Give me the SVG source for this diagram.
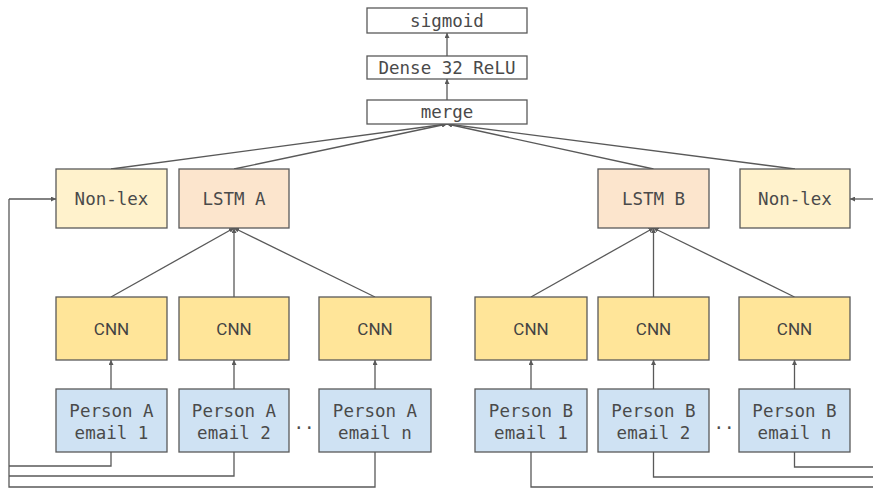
<svg xmlns="http://www.w3.org/2000/svg" width="873" height="488" viewBox="0 0 873 488">
<defs>
<marker id="ah" viewBox="0 0 10 10" refX="10" refY="5" markerWidth="5" markerHeight="5" orient="auto" markerUnits="userSpaceOnUse">
<path d="M0,0 L10,5 L0,10 z" fill="#595959"/>
</marker>
<style>
.box{stroke:#595959;stroke-width:1.3}
.w{fill:#ffffff}
.nl{fill:#fff2cc}
.ls{fill:#fce5cd}
.cn{fill:#ffe599}
.pe{fill:#cfe2f3}
.t{font-family:"DejaVu Sans Mono","Liberation Mono",monospace;font-size:17.5px;fill:#4a4a4a;text-anchor:middle;dominant-baseline:central}
.s{font-family:Roboto,"Liberation Sans",sans-serif;font-size:17px;fill:#434343;text-anchor:middle;dominant-baseline:central}
.c{fill:none;stroke:#595959;stroke-width:1.3}
.a{marker-end:url(#ah)}
</style>
</defs>
<rect width="873" height="488" fill="#ffffff"/>
<g id="connectors">
<line class="c a" x1="447" y1="56" x2="447" y2="33"/>
<line class="c a" x1="447" y1="100" x2="447" y2="79"/>
<line class="c a" x1="111" y1="169" x2="447" y2="124"/>
<line class="c a" x1="234" y1="169" x2="447" y2="124"/>
<line class="c a" x1="653.5" y1="169" x2="447" y2="124"/>
<line class="c a" x1="795" y1="169" x2="447" y2="124"/>
<line class="c a" x1="111" y1="297" x2="234" y2="228"/>
<line class="c a" x1="234" y1="297" x2="234" y2="228"/>
<line class="c a" x1="375" y1="297" x2="234" y2="228"/>
<line class="c a" x1="531" y1="297" x2="653.5" y2="228"/>
<line class="c a" x1="653.5" y1="297" x2="653.5" y2="228"/>
<line class="c a" x1="794.5" y1="297" x2="653.5" y2="228"/>
<line class="c a" x1="111" y1="389" x2="111" y2="360"/>
<line class="c a" x1="234" y1="389" x2="234" y2="360"/>
<line class="c a" x1="375" y1="389" x2="375" y2="360"/>
<line class="c a" x1="531" y1="389" x2="531" y2="360"/>
<line class="c a" x1="653.5" y1="389" x2="653.5" y2="360"/>
<line class="c a" x1="794.5" y1="389" x2="794.5" y2="360"/>
<polyline class="c" points="111,452 111,466 9,466"/>
<polyline class="c" points="234,452 234,476 9,476"/>
<polyline class="c" points="375,452 375,487 9,487 9,199"/>
<line class="c a" x1="9" y1="199" x2="56" y2="199"/>
<polyline class="c" points="794.5,452 794.5,467 880,467"/>
<polyline class="c" points="653.5,452 653.5,477 880,477"/>
<polyline class="c" points="531,452 531,487 880,487"/>
<line class="c a" x1="880" y1="199" x2="850" y2="199"/>
</g>
<g id="sigmoid"><rect class="box w" x="367" y="8" width="160" height="25"/><text class="t" x="447" y="20.5">sigmoid</text></g>
<g id="dense"><rect class="box w" x="367" y="56" width="160" height="23"/><text class="t" x="447" y="67.5">Dense 32 ReLU</text></g>
<g id="merge"><rect class="box w" x="367" y="100" width="160" height="24"/><text class="t" x="447" y="112">merge</text></g>
<g id="nonlex-a"><rect class="box nl" x="56" y="169" width="111" height="59"/><text class="t" x="111.5" y="198.5">Non-lex</text></g>
<g id="lstm-a"><rect class="box ls" x="179" y="169" width="110" height="59"/><text class="t" x="234" y="198.5">LSTM A</text></g>
<g id="lstm-b"><rect class="box ls" x="598" y="169" width="111" height="59"/><text class="t" x="653.5" y="198.5">LSTM B</text></g>
<g id="nonlex-b"><rect class="box nl" x="740" y="169" width="110" height="59"/><text class="t" x="795" y="198.5">Non-lex</text></g>
<g id="cnn-a1"><rect class="box cn" x="56" y="297" width="111" height="63"/><text class="s" x="111.5" y="328.5">CNN</text></g>
<g id="cnn-a2"><rect class="box cn" x="179" y="297" width="110" height="63"/><text class="s" x="234" y="328.5">CNN</text></g>
<g id="cnn-an"><rect class="box cn" x="319" y="297" width="112" height="63"/><text class="s" x="375" y="328.5">CNN</text></g>
<g id="cnn-b1"><rect class="box cn" x="475" y="297" width="112" height="63"/><text class="s" x="531" y="328.5">CNN</text></g>
<g id="cnn-b2"><rect class="box cn" x="598" y="297" width="111" height="63"/><text class="s" x="653.5" y="328.5">CNN</text></g>
<g id="cnn-bn"><rect class="box cn" x="739" y="297" width="111" height="63"/><text class="s" x="794.5" y="328.5">CNN</text></g>
<g id="email-a1"><rect class="box pe" x="56" y="389" width="111" height="63"/><text class="t" x="111.5" y="411">Person A</text><text class="t" x="111.5" y="433">email 1</text></g>
<g id="email-a2"><rect class="box pe" x="179" y="389" width="110" height="63"/><text class="t" x="234" y="411">Person A</text><text class="t" x="234" y="433">email 2</text></g>
<g id="email-an"><rect class="box pe" x="319" y="389" width="112" height="63"/><text class="t" x="375" y="411">Person A</text><text class="t" x="375" y="433">email n</text></g>
<g id="email-b1"><rect class="box pe" x="475" y="389" width="112" height="63"/><text class="t" x="531" y="411">Person B</text><text class="t" x="531" y="433">email 1</text></g>
<g id="email-b2"><rect class="box pe" x="598" y="389" width="111" height="63"/><text class="t" x="653.5" y="411">Person B</text><text class="t" x="653.5" y="433">email 2</text></g>
<g id="email-bn"><rect class="box pe" x="739" y="389" width="111" height="63"/><text class="t" x="794.5" y="411">Person B</text><text class="t" x="794.5" y="433">email n</text></g>
<g id="dots-a"><text class="t" x="304" y="423">..</text></g>
<g id="dots-b"><text class="t" x="724" y="423">..</text></g>
</svg>
